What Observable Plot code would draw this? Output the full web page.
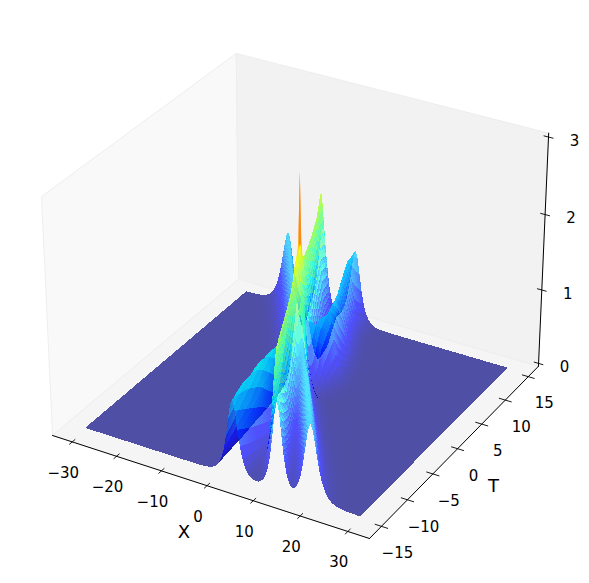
<!DOCTYPE html>
<html><head><meta charset="utf-8">
<style>html,body{margin:0;padding:0;background:#fff}svg{display:block}</style>
<script src="https://cdn.jsdelivr.net/npm/d3@7"></script>
<script src="https://cdn.jsdelivr.net/npm/@observablehq/plot@0.6"></script>
</head><body><script>
// ---- values ----
const xTicks=[-30,-20,-10,0,10,20,30];
const tTicks=[-15,-10,-5,0,5,10,15];
const zTicks=[0,1,2,3];
const xLim=[-34.5,34.5], tLim=[-17.25,17.25], zLim=[-0.04,3.05];
// three crests: time row, crest position, crest height
const ridgeT   =[-15,-13,-10,-8,-5,-2,0,2,4,7,10,13,15];
const shallowX =[2.9,2.6,2.2,1.8,1.2,0.5,0,1.4,1.9,0.5,-1.8,-3.9,-4.5];
const middleX  =[12.5,10.2,7.5,5.9,3.6,1.4,0,-1.5,-3.2,-5.3,-7.6,-10.2,-12];
const steepX   =[19.5,17,13.2,10.6,6.6,2.6,0,-2.7,-5.5,-9.5,-13.4,-17.3,-20];
const shallowH =[1.0,1.05,1.1,1.1,1.05,0.95,0.85,0.9,0.95,0.97,0.98,1.0,1.0];
const middleH  =[1.15,1.7,1.65,1.65,1.68,1.7,1.6,1.65,1.65,1.68,1.7,1.82,1.2];
const steepH   =[1.0,1.05,1.05,1.05,1.0,0.95,0.85,0.95,0.95,0.95,0.95,0.97,1.0];
const crestWidth=[1.05,.9,1.05];
const outerWidth=[1.05,.9,1.3];
// narrow peaks: position, time, height
const peakX=[0,5.2,8.7,3.4];
const peakT=[0,-6,-11,-2.5];
const peakH=[2.96,1.12,1.1,1.78];
const jetStops=[0,.11,.125,.34,.35,.375,.64,.65,.66,.89,.91,1];
const jetColors=["#00007f","#0000ff","#0000ff","#00dbff","#00e6f7","#14ffe2","#eeff08","#f7f500","#ffef00","#ff1300","#e80000","#7f0000"];
const zMax=2.96;

// ---- mplot3d view: elev 30, azim -60 ----
const box=[1.1429,1.1429,.8572], dist=10;
const U=[.8660,.5,0], V=[-.25,.4330,.8660], E=[.4330,-.75,.5];
function project(X,T,Z){
  const q=[(X-xLim[0])/(xLim[1]-xLim[0])-.5,(T-tLim[0])/(tLim[1]-tLim[0])-.5,(Z-zLim[0])/(zLim[1]-zLim[0])-.5].map((d,i)=>d*box[i]);
  const dot=a=>a[0]*q[0]+a[1]*q[1]+a[2]*q[2];
  const w=dist-dot(E);
  return {x:dot(U)/w,y:dot(V)/w,w};
}
const lerp=arr=>d3.scaleLinear(ridgeT,arr);
const pos=[lerp(shallowX),lerp(middleX),lerp(steepX)], amp=[lerp(shallowH),lerp(middleH),lerp(steepH)];
function height(X,T){
  let s=0;
  for(let j=0;j<3;j++){
    const c=pos[j](T), w=(X-c)*c>0?outerWidth[j]:crestWidth[j];
    const v=amp[j](T)/Math.cosh((X-c)/w); s+=v*v;
  }
  let z=Math.sqrt(s);
  peakX.forEach((px,i)=>{
    const wide=i===0?[.28,.3]:[.45,1.1];
    const r=Math.hypot((X-px)/wide[0],(T-peakT[i])/wide[1]);
    z=Math.max(z,peakH[i]-(peakH[i]-z)*Math.min(1,r));
  });
  return z;
}
const Xs=[...d3.range(-30,30.01,.5),-.25,.25].sort(d3.ascending), Ts=d3.range(-15,15.01,.25);
const Zs=Ts.map(t=>Xs.map(x=>height(x,t)));
let cells=[];
for(let i=0;i<Ts.length-1;i++)for(let j=0;j<Xs.length-1;j++){
  const c=[[j,i],[j+1,i],[j+1,i+1],[j,i+1]].map(([a,b])=>project(Xs[a],Ts[b],Zs[b][a]));
  const z=(Zs[i][j]+Zs[i][j+1]+Zs[i+1][j]+Zs[i+1][j+1])/4;
  cells.push({c,z,w:d3.mean(c,d=>d.w)});
}
cells.sort((a,b)=>b.w-a.w);
const toRows=list=>list.flatMap((q,id)=>q.c.map(p=>({x:p.x,y:p.y,id,z:q.z})));
const bodyRows=toRows(cells.filter(q=>q.z<1.8));
const tipRows=toRows(cells.filter(q=>q.z>=1.8));

// ---- box ----
const [x0,x1]=xLim,[t0,t1]=tLim,[z0,z1]=zLim;
const panes=[
 {id:"left",fill:"#f9f9f9",pts:[[x0,t0,z0],[x0,t1,z0],[x0,t1,z1],[x0,t0,z1]]},
 {id:"back",fill:"#f2f2f2",pts:[[x0,t1,z0],[x1,t1,z0],[x1,t1,z1],[x0,t1,z1]]},
 {id:"floor",fill:"#f5f5f5",pts:[[x0,t0,z0],[x1,t0,z0],[x1,t1,z0],[x0,t1,z0]]}
].flatMap(p=>[...p.pts,p.pts[0]].map(a=>({...project(...a),id:p.id,fill:p.fill})));
const axes=[[[x0,t0,z0],[x1,t0,z0]],[[x1,t0,z0],[x1,t1,z0]],[[x1,t1,z0],[x1,t1,z1]]]
 .flatMap((s,id)=>s.map(a=>({...project(...a),id})));
const seg=(a,b,label)=>{const p=project(...a),r=project(...b);return {x1:p.x,y1:p.y,x2:r.x,y2:r.y,label};};
const dT=.025*(t1-t0), dX=.025*(x1-x0);
const xT=xTicks.map(v=>seg([v,t0+dT*.6,z0],[v,t0-dT*.6,z0],v));
const tT=tTicks.map(v=>seg([x1-dX*.8,v,z0],[x1+dX*.8,v,z0],v));
const zT=zTicks.map(v=>seg([x1-dX*.6,t1,v],[x1+dX*.6,t1,v],v));
const fmt=v=>String(v).replace("-","\u2212");
const font={fontFamily:"DejaVu Sans",fill:"#000"};
const lab=(arr,dx,dy)=>Plot.text(arr,{x:d=>(d.x1+d.x2)/2,y:d=>(d.y1+d.y2)/2,text:d=>fmt(d.label),dx,dy,fontSize:15,lineAnchor:"middle",textAnchor:"middle",...font});
const tick=arr=>Plot.link(arr,{x1:"x1",y1:"y1",x2:"x2",y2:"y2",stroke:"#000",strokeWidth:.9});
const nameAt=(X,T,Z,t,dx,dy)=>Plot.text([project(X,T,Z)],{x:"x",y:"y",text:()=>t,dx,dy,fontSize:18,lineAnchor:"middle",textAnchor:"middle",...font});

const plot=Plot.plot({
 width:589,height:583,margin:0,
 x:{axis:null,domain:[-299.3/3178,289.7/3178],range:[0,589]},
 y:{axis:null,domain:[-298.7/3178,284.3/3178],range:[583,0]},
 color:{type:"linear",domain:jetStops.map(s=>s*zMax),range:jetColors},
 style:{background:"#fff"},
 marks:[
  Plot.line(panes,{x:"x",y:"y",z:"id",fill:d=>d.fill,stroke:"#eeeeee",strokeWidth:1}),
  Plot.line(bodyRows,{x:"x",y:"y",z:"id",fill:"z",stroke:"none",fillOpacity:.68,shapeRendering:"crispEdges"}),
  Plot.line(tipRows,{x:"x",y:"y",z:"id",fill:"z",stroke:"none",fillOpacity:.8}),
  Plot.line(axes,{x:"x",y:"y",z:"id",stroke:"#000",strokeWidth:1}),
  tick(xT),tick(tT),tick(zT),
  lab(xT,-9,31),lab(tT,16,27),lab(zT,26,4),
  nameAt(0,t0,z0,"X",-23,47),
  nameAt(x1,0,z0,"T",36,38)
 ]
});
document.body.append(plot);
</script></body></html>
